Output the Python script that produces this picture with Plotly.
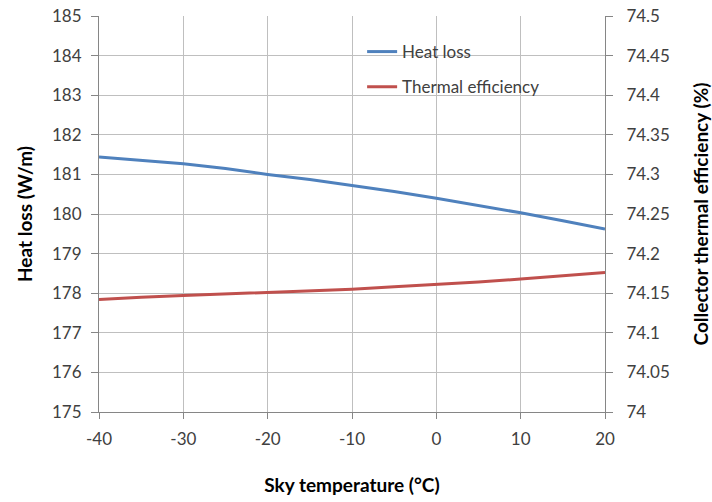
import plotly.graph_objects as go

sky_temp = [-40, -35, -30, -25, -20, -15, -10, -5, 0, 5, 10, 15, 20]
heat_loss = [181.44, 181.35, 181.27, 181.15, 181.0, 180.87, 180.72, 180.57, 180.4, 180.22, 180.03, 179.83, 179.62]
thermal_eff = [74.142, 74.145, 74.147, 74.149, 74.151, 74.153, 74.155, 74.158, 74.161, 74.164, 74.168, 74.172, 74.176]

x_ticks = [-40, -30, -20, -10, 0, 10, 20]
x_labels = ["-40", "-30", "-20", "-10", "0", "10", "20"]
y1_ticks = list(range(175, 186))
y2_ticks = [74, 74.05, 74.1, 74.15, 74.2, 74.25, 74.3, 74.35, 74.4, 74.45, 74.5]
y2_labels = ["74", "74.05", "74.1", "74.15", "74.2", "74.25", "74.3", "74.35", "74.4", "74.45", "74.5"]

BLUE = "#4F81BD"
RED = "#C0504D"
FONT = "Lato"
TICKC = "#404040"

fig = go.Figure()
fig.add_trace(go.Scatter(x=sky_temp, y=heat_loss, mode="lines", name="Heat loss",
                         line=dict(color=BLUE, width=3), legend="legend"))
fig.add_trace(go.Scatter(x=sky_temp, y=thermal_eff, mode="lines", name="Thermal efficiency",
                         line=dict(color=RED, width=3), yaxis="y2", legend="legend2"))

grid = "#BFBFBF"
axc = "#868686"
fig.update_layout(
    width=712, height=502,
    margin=dict(l=99, r=107, t=16, b=90),
    plot_bgcolor="white", paper_bgcolor="white",
    font=dict(family=FONT, size=16, color=TICKC),
    xaxis=dict(range=[-40, 20], tickvals=x_ticks, ticktext=x_labels, showgrid=True, gridcolor=grid, gridwidth=1,
               showline=True, linecolor=axc, ticks="outside", ticklen=6, tickcolor=axc,
               zeroline=False, tickfont=dict(size=17, color=TICKC), ticklabelstandoff=6, automargin=False,
               title=dict(text="<b>Sky temperature (°C)</b>", font=dict(size=19, color="black"), standoff=30)),
    yaxis=dict(range=[175, 185], tickvals=y1_ticks, showgrid=True, gridcolor=grid, gridwidth=1,
               showline=True, linecolor=axc, ticks="outside", ticklen=7, tickcolor=axc,
               zeroline=False, tickfont=dict(size=17, color=TICKC), ticklabelstandoff=6, automargin=False,
               title=dict(text="<b>Heat loss (W/m)</b>", font=dict(size=19, color="black"), standoff=14)),
    yaxis2=dict(range=[74, 74.5], tickvals=y2_ticks, ticktext=y2_labels, overlaying="y", side="right",
                showgrid=False, showline=True, linecolor=axc, ticks="outside", ticklen=7, tickcolor=axc,
                zeroline=False, tickfont=dict(size=17, color=TICKC), ticklabelstandoff=10, automargin=False,
                title=dict(text="<b>Collector thermal efficiency (%)</b>", font=dict(size=19, color="black"), standoff=30)),
    legend=dict(x=0.52, y=0.909, xanchor="left", yanchor="middle", bgcolor="rgba(0,0,0,0)",
                font=dict(size=17, color=TICKC), itemwidth=30),
    legend2=dict(x=0.52, y=0.82, xanchor="left", yanchor="middle", bgcolor="rgba(0,0,0,0)",
                 font=dict(size=17, color=TICKC), itemwidth=30),
    showlegend=True,
)

fig.write_html("out.html")
